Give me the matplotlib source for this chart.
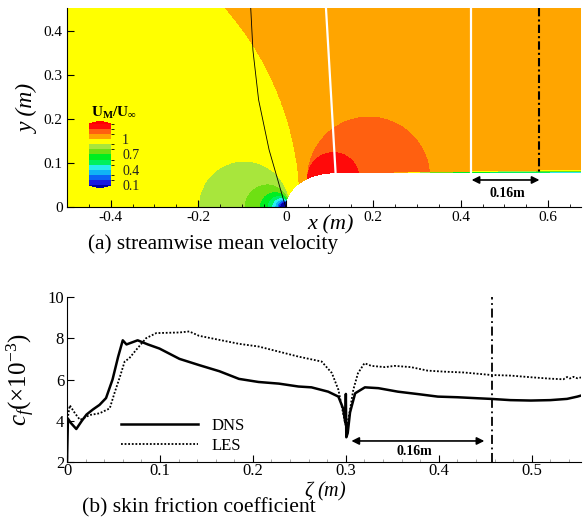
import numpy as np
import matplotlib.pyplot as plt
from matplotlib.colors import ListedColormap, BoundaryNorm

plt.rcParams['font.family'] = ['Liberation Serif', 'DejaVu Sans']
plt.rcParams['mathtext.fontset'] = 'custom'
plt.rcParams['mathtext.rm'] = 'Liberation Serif'
plt.rcParams['mathtext.it'] = 'Liberation Serif:italic'
plt.rcParams['mathtext.bf'] = 'Liberation Serif:bold'

# ---- (a) contour levels of U_M/U_inf and their colours
levels = [0.1, 0.2, 0.3, 0.4, 0.5, 0.6, 0.7, 0.8, 0.9, 1.0, 1.1, 1.2, 1.3]
band_colors = ['#1a1ae0', '#0a64f5', '#10b4f5', '#28ecf0', '#00f060', '#00ee20',
               '#6ee012', '#a8e63c', '#ffff00', '#ffa500', '#ff6010', '#ff0a0a']
cbar_ticks = [0.1, 0.4, 0.7, 1.0]
cbar_labels = ['0.1', '0.4', '0.7', '1']

# body: elliptic leading edge followed by flat plate
nose_len = 0.115
half_thick = 0.078

# flow features
divide_cx, divide_r = -0.652, 0.685        # yellow / orange divide
stag_x, stag_k = 0.01, 0.021                 # stagnation region at the nose
shoulder_x, shoulder_y = 0.05, 0.065         # acceleration bulge
shoulder_c, shoulder_p = 0.0361, 0.8
bl_start, bl_growth = 0.15, 0.016           # boundary layer on the plate

# lines drawn on the field
mesh_x = [-0.080, -0.075, -0.062, -0.038, -0.020, -0.005, 0.0]
mesh_y = [0.453, 0.357, 0.244, 0.130, 0.068, 0.016, 0.0]
zone1_x = [0.092, 0.114]
zone1_y = [0.453, 0.077]
zone2_x = [0.423, 0.423]
zone2_y = [0.453, 0.077]
probe_x_a = 0.58

top_xticks = [-0.4, -0.2, 0, 0.2, 0.4, 0.6]
top_xlabels = ['-0.4', '-0.2', '0', '0.2', '0.4', '0.6']
top_yticks = [0, 0.1, 0.2, 0.3, 0.4]
top_ylabels = ['0', '0.1', '0.2', '0.3', '0.4']

# ---- (b) skin friction coefficient (x 1e-3)
dns_x = [0.0, 0.001, 0.004, 0.010, 0.016, 0.021, 0.028, 0.035, 0.042, 0.049, 0.055,
         0.060, 0.064, 0.070, 0.076, 0.087, 0.0995, 0.121, 0.142, 0.164, 0.185,
         0.206, 0.228, 0.249, 0.263, 0.281, 0.292, 0.297, 0.2995, 0.300, 0.3005,
         0.302, 0.3045, 0.310, 0.3205, 0.335, 0.356, 0.378, 0.399, 0.420, 0.442,
         0.456, 0.477, 0.499, 0.520, 0.538, 0.549, 0.553]
dns_cf = [2.0, 4.1, 3.9, 3.6, 4.0, 4.3, 4.55, 4.77, 5.1, 6.0, 7.1,
          7.9, 7.7, 7.8, 7.9, 7.7, 7.5, 7.0, 6.7, 6.4, 6.03,
          5.88, 5.8, 5.66, 5.62, 5.41, 5.17, 4.6, 3.9, 5.3, 3.2,
          3.4, 4.4, 5.33, 5.62, 5.58, 5.41, 5.29, 5.17, 5.14, 5.09,
          5.06, 5.0, 4.98, 5.0, 5.06, 5.17, 5.22]
les_x = [0.0, 0.003, 0.0086, 0.014, 0.0246, 0.035, 0.046, 0.051, 0.057, 0.062,
         0.067, 0.0745, 0.085, 0.096, 0.121, 0.1315, 0.142, 0.164, 0.185, 0.206,
         0.228, 0.249, 0.274, 0.285, 0.292, 0.297, 0.3005, 0.304, 0.308, 0.313,
         0.320, 0.3275, 0.342, 0.3525, 0.370, 0.388, 0.406, 0.427, 0.456, 0.477,
         0.499, 0.520, 0.534, 0.538, 0.541, 0.545, 0.549, 0.553]
les_cf = [3.9, 4.75, 4.36, 4.04, 4.28, 4.36, 4.6, 5.33, 6.14, 6.87,
          7.03, 7.44, 8.0, 8.25, 8.28, 8.33, 8.12, 7.92, 7.73, 7.6,
          7.35, 7.11, 6.87, 6.31, 5.5, 4.38, 3.6, 4.4, 5.5, 6.3,
          6.79, 6.66, 6.6, 6.66, 6.6, 6.43, 6.38, 6.34, 6.22, 6.19,
          6.11, 6.04, 6.01, 6.12, 6.05, 6.13, 6.06, 6.1]
probe_x_b = 0.457


def body_top(x):
    s = np.clip(1 - np.clip(x, 0, None) / nose_len, 0, 1)
    return half_thick * np.sqrt(1 - s ** 2)


fig = plt.figure(figsize=(5.85, 5.19), dpi=100)
W, H = 585.0, 519.0

# ================= (a) streamwise mean velocity
ax1 = fig.add_axes([67 / W, 1 - 207 / H, 514 / W, 199 / H])
xg = np.linspace(-0.5, 0.68, 1400)
yg = np.linspace(0, 0.455, 560)
X, Y = np.meshgrid(xg, yg)
yb = body_top(X)
inside = (X >= 0) & (Y <= yb)

base = np.where(np.hypot(X - divide_cx, Y) < divide_r, 0.95, 1.05)
ua = 1 + stag_k * (X - stag_x) / ((X - stag_x) ** 2 + Y ** 2 + 1e-12)
u = np.where(ua < 0.9, ua, base)
gb = np.clip(X - shoulder_x, 0, None) / ((X - shoulder_x) ** 2 + (Y - shoulder_y) ** 2 + 1e-12)
ub = 1 + shoulder_c * gb ** shoulder_p
u = np.where(ub > 1.1, ub, u)
u = np.minimum(u, 1.29)
delta = np.clip(bl_growth * (X - bl_start), 1e-6, None)
bl = np.where(X > bl_start, np.clip((Y - yb) / delta, 0, 1) ** 0.5, 1.0)
u = np.ma.masked_where(inside, u * bl)

cmap = ListedColormap(band_colors)
cmap.set_under('#0000a0')
cmap.set_over('#ff0000')
norm = BoundaryNorm(levels, cmap.N)
cs = ax1.contourf(X, Y, u, levels=levels, cmap=cmap, norm=norm, extend='both')

ax1.plot(mesh_x, mesh_y, color='k', lw=0.6)
ax1.plot(zone1_x, zone1_y, color='white', lw=1.6)
ax1.plot(zone2_x, zone2_y, color='white', lw=1.6)
ax1.plot([probe_x_a, probe_x_a], [0.453, 0.077], color='k', lw=1.5,
         linestyle=(0, (4, 1.5, 1, 1.5)))
ax1.annotate('', xy=(0.425, 0.0615), xytext=(probe_x_a, 0.0615),
             arrowprops=dict(arrowstyle='<|-|>', color='k', lw=1.2, mutation_scale=11,
                             shrinkA=0, shrinkB=0))
ax1.text(0.506, 0.0296, '0.16m', fontsize=10, fontweight='bold', ha='center', va='center')

ax1.set_xlim(-0.5, 0.675)
ax1.set_ylim(0, 0.453)
ax1.spines['top'].set_visible(False)
ax1.spines['right'].set_visible(False)
ax1.set_xticks(top_xticks)
ax1.set_xticklabels(top_xlabels)
ax1.set_yticks(top_yticks)
ax1.set_yticklabels(top_ylabels)
ax1.set_xticks(np.arange(-0.5, 0.676, 0.05), minor=True)
ax1.tick_params(which='both', direction='in', labelsize=11, pad=3)
ax1.tick_params(which='major', length=5)
ax1.tick_params(which='minor', length=2.5)

# legend bar of the contour plot
cax = fig.add_axes([89 / W, 1 - 188 / H, 22 / W, 67 / H])
cb = fig.colorbar(cs, cax=cax, ticks=cbar_ticks, extend='neither')
cb.ax.set_ylim(0.1, 1.3)
cb.outline.set_visible(False)
cb.ax.set_yticklabels(cbar_labels)
cb.ax.tick_params(length=0, labelsize=10, pad=8, colors='#222222')
fig.text(114 / W, 1 - 113 / H, r'$\mathbf{U_M/U_\infty}$', fontsize=11,
         ha='center', va='center')

fig.text(330 / W, 1 - 225 / H, 'x (m)', style='italic', fontsize=16, ha='center', va='center')
fig.text(28 / W, 1 - 108 / H, 'y (m)', style='italic', fontsize=17, ha='center', va='center',
         rotation=90)
fig.text(88 / W, 1 - 244 / H, '(a) streamwise mean velocity', fontsize=15.3, va='center')

# ================= (b) skin friction coefficient
ax2 = fig.add_axes([67 / W, 1 - 462 / H, 514 / W, 165 / H])
ax2.plot(dns_x, dns_cf, color='k', lw=1.8, label='DNS')
ax2.plot(les_x, les_cf, color='k', lw=1.3, linestyle=(0, (1, 1)), label='LES')
ax2.plot([probe_x_b, probe_x_b], [2, 10], color='k', lw=1.3,
         linestyle=(0, (5, 2, 1, 2)))
ax2.annotate('', xy=(0.306, 3.02), xytext=(0.449, 3.02),
             arrowprops=dict(arrowstyle='<|-|>', color='k', lw=1.2, mutation_scale=11,
                             shrinkA=0, shrinkB=0))
ax2.text(0.374, 2.5, '0.16m', fontsize=10, fontweight='bold', ha='center', va='center')

ax2.set_xlim(0, 0.553)
ax2.set_ylim(2, 10)
ax2.spines['top'].set_visible(False)
ax2.spines['right'].set_visible(False)
ax2.set_xticks([0, 0.1, 0.2, 0.3, 0.4, 0.5])
ax2.set_xticklabels(['0', '0.1', '0.2', '0.3', '0.4', '0.5'])
ax2.set_xticks(np.arange(0, 0.554, 0.02), minor=True)
ax2.set_yticks([2, 4, 6, 8, 10])
ax2.tick_params(which='both', direction='in', labelsize=12, pad=2)
ax2.tick_params(axis='x', pad=1)
ax2.tick_params(which='major', length=5)
ax2.tick_params(which='minor', length=2.5, color='#999999')
ax2.legend(loc='upper left', bbox_to_anchor=(0.076, 0.36), frameon=False,
           handlelength=4.6, fontsize=12, labelspacing=0.25)

fig.text(325 / W, 1 - 491 / H, r'$\zeta$ (m)', style='italic', fontsize=14.5,
         ha='center', va='center')
fig.text(21 / W, 1 - 380 / H, r'$c_f(\times10^{-3})$', fontsize=18, ha='center',
         va='center', rotation=90)
fig.text(82 / W, 1 - 508 / H, '(b) skin friction coefficient', fontsize=15.6, va='center')

fig.savefig('out.png', dpi=100)
